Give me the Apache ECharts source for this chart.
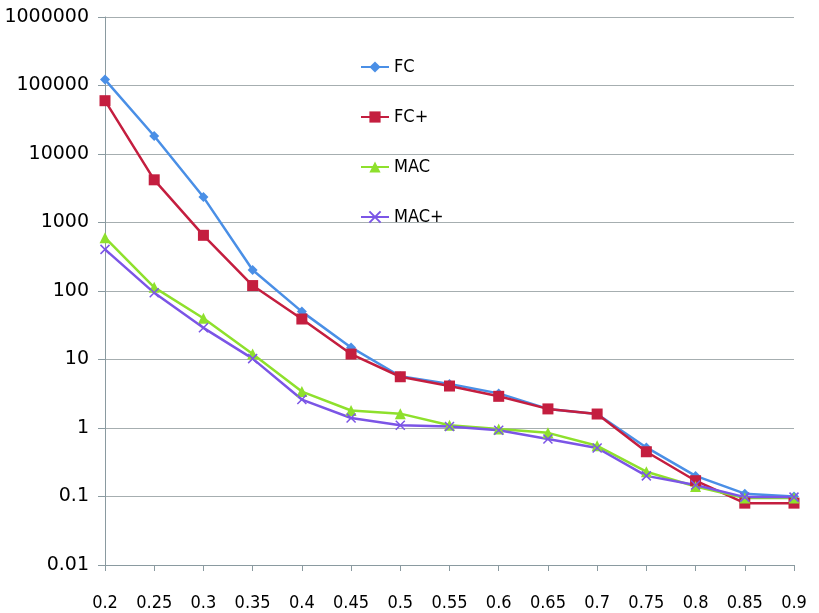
<!DOCTYPE html>
<html>
<head>
<meta charset="utf-8">
<script src="https://cdn.jsdelivr.net/npm/echarts@6/dist/echarts.min.js"></script>
<style>html,body{margin:0;padding:0;background:#fff}#c{width:819px;height:613px}</style>
</head>
<body>
<div id="c"></div>
<script>
var categories = ['0.2','0.25','0.3','0.35','0.4','0.45','0.5','0.55','0.6','0.65','0.7','0.75','0.8','0.85','0.9'];
var fc     = [122000, 18300, 2350, 203, 50, 15, 5.7, 4.4, 3.2, 1.9, 1.6, 0.52, 0.2, 0.11, 0.1];
var fcPlus = [60000, 4200, 650, 120, 39, 12, 5.6, 4.1, 2.9, 1.9, 1.6, 0.45, 0.17, 0.08, 0.08];
var mac    = [600, 113, 40, 12, 3.4, 1.8, 1.62, 1.1, 0.97, 0.85, 0.55, 0.23, 0.14, 0.095, 0.095];
var macPlus= [405, 94, 29, 10.3, 2.6, 1.4, 1.1, 1.05, 0.93, 0.69, 0.51, 0.2, 0.147, 0.098, 0.098];
var yTicks = ['0.01','0.1','1','10','100','1000','10000','100000','1000000'];

var xPath = 'path://M0,0 L10,10 M10,0 L0,10';
var chart = echarts.init(document.getElementById('c'));
function ser(name, data, color, symbol, size) {
  return {
    name: name, type: 'line', data: data, symbol: symbol, symbolSize: size,
    showAllSymbol: true,
    lineStyle: {color: color, width: 2.5},
    itemStyle: {color: color, borderColor: color, borderWidth: symbol === xPath ? 1.5 : 0},
    emphasis: {disabled: true}
  };
}
chart.setOption({
  animation: false,
  textStyle: {fontFamily: 'DejaVu Sans Condensed'},
  grid: {left: 105, right: 25, top: 17, bottom: 48, containLabel: false},
  legend: {
    orient: 'vertical', left: 355, top: 53, itemGap: 32, itemWidth: 28, itemHeight: 14,
    textStyle: {fontSize: 18, color: '#000', fontFamily: 'DejaVu Sans Condensed'},
    data: ['FC','FC+','MAC','MAC+']
  },
  xAxis: {
    type: 'category', data: categories, boundaryGap: false,
    axisLine: {lineStyle: {color: '#8a9aa0', width: 1}},
    axisTick: {show: true, length: 6, lineStyle: {color: '#8a9aa0'}, inside: false},
    axisLabel: {color: '#000', fontSize: 18, margin: 29, fontFamily: 'DejaVu Sans Condensed'},
    splitLine: {show: false}
  },
  yAxis: {
    type: 'log', logBase: 10, min: 0.01, max: 1000000,
    axisLine: {show: true, lineStyle: {color: '#8a9aa0'}},
    axisTick: {show: true, length: 7, lineStyle: {color: '#8a9aa0'}},
    axisLabel: {color: '#000', fontSize: 19, margin: 16, fontFamily: 'DejaVu Sans',
      formatter: function (v) {
        var e = Math.round(Math.log10(v));
        return yTicks[e + 2] !== undefined ? yTicks[e + 2] : String(v);
      }},
    splitLine: {show: true, lineStyle: {color: '#a6aeb0', width: 1.2}}
  },
  series: [
    ser('FC', fc, '#4a8fe6', 'diamond', 10),
    ser('FC+', fcPlus, '#c41e3f', 'rect', 11),
    ser('MAC', mac, '#8ee02c', 'triangle', 11),
    ser('MAC+', macPlus, '#7b55e6', xPath, 9)
  ]
});
</script>
</body>
</html>
